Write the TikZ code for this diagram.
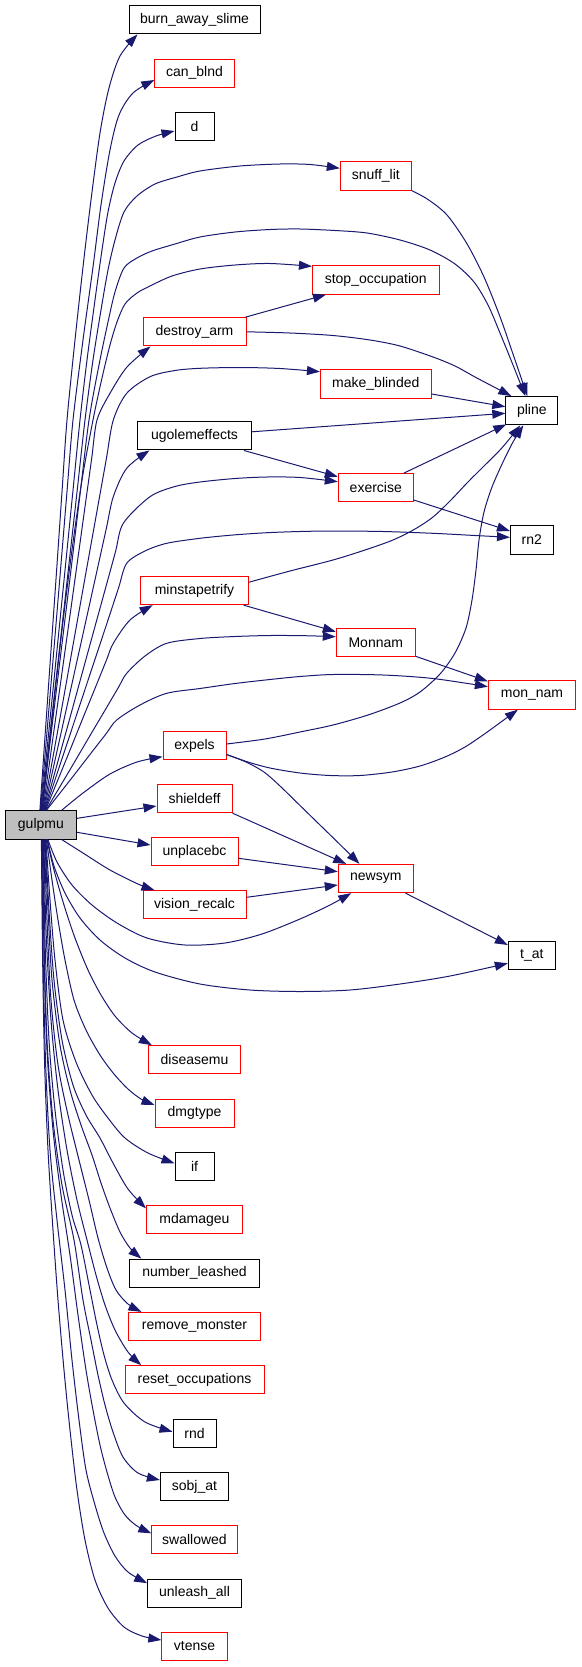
\documentclass[tikz,border=0pt]{standalone}
\usepackage{fontspec}
\setmainfont{Liberation Sans}
\usetikzlibrary{arrows.meta}
\definecolor{edgeblue}{HTML}{191970}
\definecolor{nodegray}{HTML}{BFBFBF}
\begin{document}
\begin{tikzpicture}[x=1pt,y=-1pt,
  box/.style={draw, line width=1pt, fill=white, minimum height=28.3pt, inner sep=0pt, font=\fontsize{14}{16}\selectfont},
  rbox/.style={box, draw=red},
  kbox/.style={box, draw=black},
  gbox/.style={box, draw=black, fill=nodegray},
  e/.style={draw=edgeblue, line width=1pt, -{Triangle[length=13pt,width=9pt]}}
]
\useasboundingbox (0,0) rectangle (581,1667);
% nodes
\node[kbox, minimum width=131pt]   (burn)      at (194.5,19.8)  {burn\_away\_slime};
\node[rbox, minimum width=79.3pt]  (canblnd)   at (194.5,73.2)  {can\_blnd};
\node[kbox, minimum width=39pt]    (d)         at (194.5,126.7) {d};
\node[rbox, minimum width=71pt]    (snuff)     at (375.8,176)   {snuff\_lit};
\node[rbox, minimum width=126.7pt] (stop)      at (375.8,280)   {stop\_occupation};
\node[rbox, minimum width=103pt]   (destroy)   at (194.5,331.8) {destroy\_arm};
\node[rbox, minimum width=110.7pt] (mkblind)   at (375.8,384)   {make\_blinded};
\node[kbox, minimum width=52pt]    (pline)     at (531.8,410.7) {pline};
\node[kbox, minimum width=113.7pt] (ugolem)    at (194.5,435.8) {ugolemeffects};
\node[rbox, minimum width=75pt]    (exercise)  at (375.8,487.8) {exercise};
\node[kbox, minimum width=42.7pt]  (rntwo)     at (531.8,540)   {rn2};
\node[rbox, minimum width=107.3pt] (minsta)    at (194.5,590.5) {minstapetrify};
\node[rbox, minimum width=79pt]    (Monnam)    at (375.8,642.7) {Monnam};
\node[rbox, minimum width=87.3pt]  (monnam)    at (532,695)     {mon\_nam};
\node[rbox, minimum width=63pt]    (expels)    at (194.5,745.5) {expels};
\node[rbox, minimum width=75pt]    (shieldeff) at (194.5,798.5) {shieldeff};
\node[gbox, minimum width=71.5pt]  (gulpmu)    at (40.9,824.9)  {gulpmu};
\node[rbox, minimum width=87pt]    (unplacebc) at (194.5,851.8) {unplacebc};
\node[rbox, minimum width=75pt]    (newsym)    at (375.8,878.5) {newsym};
\node[rbox, minimum width=103pt]   (vision)    at (194.5,904.8) {vision\_recalc};
\node[kbox, minimum width=47pt]    (tat)       at (531.8,955.8) {t\_at};
\node[rbox, minimum width=92.3pt]  (disease)   at (194.5,1059.8) {diseasemu};
\node[rbox, minimum width=79pt]    (dmgtype)   at (194.5,1113.3) {dmgtype};
\node[kbox, minimum width=39pt]    (iff)       at (194.5,1166.5) {if};
\node[rbox, minimum width=96pt]    (mdamageu)  at (194.5,1219.8) {mdamageu};
\node[kbox, minimum width=129.3pt] (numleash)  at (194.5,1273.2) {number\_leashed};
\node[rbox, minimum width=132pt]   (remove)    at (194.5,1326.5) {remove\_monster};
\node[rbox, minimum width=139pt]   (reset)     at (194.5,1379.8) {reset\_occupations};
\node[kbox, minimum width=43pt]    (rnd)       at (194.5,1433.2) {rnd};
\node[kbox, minimum width=68.3pt]  (sobj)      at (194.5,1486.5) {sobj\_at};
\node[rbox, minimum width=85.3pt]  (swallowed) at (194.5,1539.8) {swallowed};
\node[kbox, minimum width=93.7pt]  (unleash)   at (194.5,1593.2) {unleash\_all};
\node[rbox, minimum width=65.3pt]  (vtense)    at (194.5,1646.5) {vtense};

% edges from gulpmu, upward
\draw[e] plot[smooth] coordinates {([xshift=-1pt]gulpmu.north) (48.8,681.8) (56.2,576.3) (62.1,490.3) (67,420) (75,340) (83,267) (91,200) (100,133) (109,88) (120,56) ([xshift=9pt]burn.south west)};
\draw[e] plot[smooth] coordinates {([xshift=-0.5pt]gulpmu.north) (51.2,681.8) (60,576.3) (67.1,490.3) (73,420) (83,340) (93,267) (101,205) (110,150) (119,115) (133,93) ([yshift=-6.8pt]canblnd.west)};
\draw[e] plot[smooth] coordinates {(gulpmu.north) (53.8,681.8) (64.4,576.3) (73,490.3) (80,420) (87,360) (95,300) (102,250) (108,212) (115,183) (124,161) (138,145) (156,136) ([yshift=-4.3pt]d.west)};
\draw[e] plot[smooth] coordinates {([xshift=0.5pt]gulpmu.north) (55.8,681.8) (67.6,576.3) (77.2,490.3) (85,420) (93,360) (101,310) (108,270) (115,240) (124,212) (137,196) (155,184) (177,177) (200,171) (240,166) (280,164) (310,164.5) ([yshift=7.7pt]snuff.west)};
\draw[e] plot[smooth] coordinates {([xshift=1pt]gulpmu.north) (57.4,681.8) (70.2,576.3) (80.5,490.3) (89,420) (99,365) (108,322) (115,292) (124,268) (137,258) (152,251) (175,244) (200,237) (235,232) (270,229.5) (300,229) (335,230.5) (367,233) (400,240) (430,250) (455,264) (474,282) (488,305) (500,333) (513,365) ([xshift=20pt]pline.north west)};
\draw[e] plot[smooth] coordinates {([xshift=1.5pt]gulpmu.north) (52,720) (62,630) (72,550) (82,480) (93,420) (102,378) (110,345) (117,322) (125,304) (137,293) (150,286) (172,276) (200,269) (235,265) (270,263.5) ([yshift=-1pt]stop.north west)};
\draw[e] plot[smooth] coordinates {([xshift=2pt]gulpmu.north) (59.1,693.5) (72.7,595.8) (83.5,517.7) (91.6,459.1) (97,420) (110,393.3) (127,367) ([xshift=8pt]destroy.south west)};
\draw[e] plot[smooth] coordinates {([xshift=2.5pt]gulpmu.north) (64.4,693.5) (81.8,595.8) (95.8,517.7) (106.3,459.1) (113.3,420) (126.7,393.3) (150,376.7) (175,370.5) (200,368.3) (240,367.5) (280,368.5) ([yshift=12.3pt]mkblind.west)};
\draw[e] plot[smooth] coordinates {([xshift=3pt]gulpmu.north) (64.7,716.5) (82.1,638) (96,575.2) (106.4,528.1) (113.3,496.7) (126.7,468.3) ([xshift=12.3pt]ugolem.south west)};
\draw[e] plot[smooth] coordinates {([xshift=3.5pt]gulpmu.north) (68.1,724.5) (87.8,652.6) (103.6,595.2) (115.4,552.1) (123.3,523.3) (150,496.7) (175,486.5) (200,482) (235,478.5) (267,477) (300,477.5) ([yshift=6.1pt]exercise.west)};
\draw[e] plot[smooth] coordinates {([xshift=4pt]gulpmu.north) (69.4,736.5) (89.9,674.6) (106.3,625.2) (118.5,588.1) (126.7,563.3) (145,551) (166.7,543.3) (200,538.3) (233,535) (267,532.7) (300,531.5) (333,531) (383,531.5) (433,533.3) (475,535.5) ([yshift=2.7pt]rntwo.west)};
\draw[e] plot[smooth] coordinates {([xshift=4.5pt]gulpmu.north) (65.8,760.5) (82.7,718.6) (96.3,685.2) (106.5,660) (113.3,643.3) (130,620) ([xshift=12.3pt]minsta.south west)};
\draw[e] plot[smooth] coordinates {([xshift=5pt]gulpmu.north) (70.1,769.5) (90.3,735.1) (106.5,707.7) (118.6,687.1) (126.7,673.3) (145,656) (166.7,643.3) (200,638.5) (235,636.5) (270,635.5) (305,635.7) ([yshift=6pt]Monnam.west)};
\draw[e] plot[smooth] coordinates {([xshift=5.5pt]gulpmu.north) (71,779) (92.1,751.7) (106.2,733.6) (116.7,720) (140,705) (166.7,693.3) (200,688.5) (235,683.5) (270,679.5) (300,676.5) (333,674.5) (383,675) (433,678.5) ([yshift=8.3pt]monnam.west)};
\draw[e] plot[smooth] coordinates {([xshift=20.8pt]gulpmu.north) (83,793) (110,774) (137,762) ([yshift=-11.2pt]expels.west)};
\draw[e] ([yshift=6.6pt]gulpmu.east) -- ([yshift=-7.5pt]shieldeff.west);
\draw[e] ([yshift=-7.4pt]gulpmu.east) -- ([yshift=6.8pt]unplacebc.west);
\draw[e] plot[smooth] coordinates {([xshift=20.8pt]gulpmu.south) (83,853) (110,870) (138,884) ([xshift=12pt]vision.north west)};
\draw[e] plot[smooth] coordinates {([xshift=7pt]gulpmu.south) (57,862) (72,885) (92,905) (117,923) (147,938) (185,945) (225,943) (262,934) (300,919) (330,905) ([xshift=13.4pt]newsym.south west)};
\draw[e] plot[smooth] coordinates {([xshift=6.5pt]gulpmu.south) (54,866) (65,893) (80,918) (100,940) (125,958) (155,972) (200,984) (250,990) (300,991.5) (350,990) (400,984) (450,976) ([yshift=-7.5pt]tat.west)};
% edges from gulpmu, downward
\draw[e] plot[smooth] coordinates {([xshift=6pt]gulpmu.south) (54,870) (64,905) (75,938) (88,970) (101,995) (115,1016) (132,1033) ([xshift=4pt]disease.north west)};
\draw[e] plot[smooth] coordinates {([xshift=5.5pt]gulpmu.south) (52,880) (58,920) (65,960) (74,1000) (86,1030) (100,1055) (114,1074) (128,1089) (141,1099) ([yshift=8.3pt]dmgtype.west)};
\draw[e] plot[smooth] coordinates {([xshift=5pt]gulpmu.south) (50,900) (55,960) (63,1020) (76,1062) (92,1095) (108,1118) (125,1138) (148,1153) ([yshift=3.2pt]iff.west)};
\draw[e] plot[smooth] coordinates {([xshift=4.5pt]gulpmu.south) (49,910) (54,980) (62,1040) (73,1085) (86,1115) (100,1138) (113,1163) (128,1189) ([yshift=11.5pt]mdamageu.west)};
\draw[e] plot[smooth] coordinates {([xshift=4pt]gulpmu.south) (48,910) (52,980) (60,1045) (70,1090) (81,1125) (92,1155) (101,1183) (110,1208) (120,1232) (130,1248) ([xshift=12pt]numleash.north west)};
\draw[e] plot[smooth] coordinates {([xshift=3.5pt]gulpmu.south) (47,920) (51,1000) (58,1065) (68,1115) (79,1160) (89,1200) (98,1238) (107,1268) (116,1290) (128,1304) ([xshift=13.4pt]remove.north west)};
\draw[e] plot[smooth] coordinates {([xshift=3pt]gulpmu.south) (46,930) (51,1020) (58,1090) (67,1150) (77,1200) (87,1240) (96,1275) (105,1305) (115,1330) (128,1352) ([xshift=16.7pt]reset.north west)};
\draw[e] plot[smooth] coordinates {([xshift=2.5pt]gulpmu.south) (45,940) (49,1040) (55,1110) (63,1170) (72,1215) (81,1245) (90,1290) (97,1325) (104,1355) (112,1380) (124,1403) (145,1422) ([yshift=1.5pt]rnd.west)};
\draw[e] plot[smooth] coordinates {([xshift=2pt]gulpmu.south) (44,940) (47,1040) (53,1120) (62,1185) (74,1240) (83,1300) (91,1340) (98,1375) (105,1405) (113,1432) (123,1457) (138,1473) ([yshift=6.5pt]sobj.west)};
\draw[e] plot[smooth] coordinates {([xshift=1.5pt]gulpmu.south) (44,950) (47,1050) (53,1130) (61,1195) (70,1255) (78,1315) (86,1370) (93,1410) (100,1445) (107,1472) (115,1497) (125,1515) (137,1526) ([yshift=6.5pt]swallowed.west)};
\draw[e] plot[smooth] coordinates {([xshift=1pt]gulpmu.south) (43,950) (45.5,1060) (50,1150) (57,1220) (65,1290) (72,1360) (79,1420) (86,1470) (95,1505) (104,1533) (115,1556) (128,1572) ([yshift=10pt]unleash.west)};
\draw[e] plot[smooth] coordinates {([xshift=0.5pt]gulpmu.south) (42.5,950) (44.5,1060) (48,1150) (53,1230) (58,1300) (64,1370) (70,1430) (77,1490) (85,1540) (95,1580) (108,1608) (124,1627) (142,1636) ([yshift=6.5pt]vtense.west)};
% other edges
\draw[e] plot[smooth] coordinates {(snuff.south east) (428,199.5) (447,215) (466.7,243.3) (484,277) (500,316.7) (514,357) ([xshift=22pt]pline.north west)};
\draw[e] ([xshift=-1pt]destroy.north east) -- ([xshift=14pt]stop.south west);
\draw[e] plot[smooth] coordinates {(destroy.east) (290,333) (333,335.5) (370,340) (400,346) (433,357) (455,366) (475,377) (494,387) ([xshift=6pt]pline.north west)};
\draw[e] ([yshift=-10pt]mkblind.east) -- ([yshift=4pt]pline.west);
\draw[e] ([yshift=4pt]ugolem.east) -- ([yshift=-2.6pt]pline.west);
\draw[e] ([xshift=-8pt]ugolem.south east) -- ([yshift=11.1pt]exercise.west);
\draw[e] ([xshift=-10pt]exercise.north east) -- ([xshift=1pt,yshift=1pt]pline.south west);
\draw[e] ([yshift=-12.2pt]exercise.east) -- ([yshift=9pt]rntwo.west);
\draw[e] plot[smooth] coordinates {([yshift=8.2pt]minsta.east) (290,571) (333,560) (365,550) (393,540) (415,529) (433,517) (450,501) (467,483) (483,467) (500,450) (511,437) ([xshift=15pt]pline.south west)};
\draw[e] ([xshift=-5pt]minsta.south east) -- ([yshift=11pt]Monnam.west);
\draw[e] ([yshift=1pt]Monnam.south east) -- ([yshift=-1pt]monnam.north west);
\draw[e] plot[smooth] coordinates {([yshift=1.5pt]expels.east) (265,739) (300,732) (333,725) (368,715) (400,703) (420,692) (440,674) (455,653) (466,628) (472,600) (476,570) (479,540) (484,512) (492,487) (503,462) (513,442) ([xshift=18pt]pline.south west)};
\draw[e] plot[smooth] coordinates {([yshift=-9pt]expels.east) (248,762) (270,768) (300,773) (330,775.5) (360,775.5) (392,772) (420,766) (445,757) (465,747) (483,735) (501,722) ([xshift=30pt]monnam.south west)};
\draw[e] plot[smooth] coordinates {([yshift=-9pt]expels.east) (246,762) (264,772) (280,786) (300,805.5) (320,825) (340,844.5) ([xshift=21.7pt]newsym.north west)};
\draw[e] (shieldeff.south east) -- ([xshift=8.4pt]newsym.north west);
\draw[e] ([yshift=-6.5pt]unplacebc.east) -- ([yshift=6.8pt]newsym.west);
\draw[e] ([yshift=7.5pt]vision.east) -- ([yshift=-6.5pt]newsym.west);
\draw[e] ([xshift=-8.3pt]newsym.south east) -- ([yshift=10.8pt]tat.west);
\end{tikzpicture}
\end{document}
